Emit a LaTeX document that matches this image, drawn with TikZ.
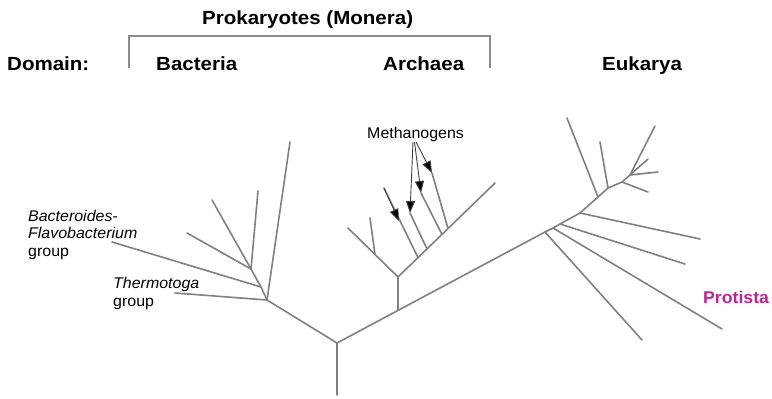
\documentclass[tikz,border=0pt]{standalone}
\usepackage{fontspec}
\setmainfont{Liberation Sans}
\newfontfamily\hdfont[FakeStretch=1.08]{Liberation Sans}
\newfontfamily\prfont[FakeStretch=1.04]{Liberation Sans}
\newfontfamily\lbfont[FakeStretch=1.03]{Liberation Sans}
\usetikzlibrary{arrows.meta}
\definecolor{branch}{RGB}{128,128,128}
\definecolor{bracketgray}{RGB}{140,140,140}
\definecolor{protista}{RGB}{185,40,145}
\begin{document}
\begin{tikzpicture}[x=1pt,y=-1pt,
  br/.style={draw=branch,line width=1.6pt,line cap=round},
  ptr/.style={draw=black!75,line width=0.9pt,-{Triangle[length=12pt,width=9pt,fill=black]}},
  hdr/.style={font=\hdfont\bfseries\fontsize{19}{22}\selectfont,inner sep=0pt,anchor=base west},
  lbl/.style={font=\lbfont\fontsize{15.5}{18}\selectfont,inner sep=0pt,anchor=base west},
  ilbl/.style={lbl,font=\lbfont\itshape\fontsize{15.5}{18}\selectfont}]
\useasboundingbox (0,0) rectangle (772,399);

% ---- headers ----
\node[hdr] (prok) at (202,24) {Prokaryotes (Monera)};
\node[hdr] (dom) at (7,70.5) {Domain:};
\node[hdr] (bac) at (156,70.5) {Bacteria};
\node[hdr] (arc) at (383,70.5) {Archaea};
\node[hdr] (euk) at (602,70) {Eukarya};
\coordinate (brL) at (129,68);
\coordinate (brTL) at (129,36);
\coordinate (brTR) at (490,36);
\coordinate (brR) at (490,68);
\draw[draw=bracketgray,line width=1.5pt] (brL) -- (brTL) -- (brTR) -- (brR);

% ---- tree coordinates ----
\coordinate (Rb) at (337,395);
\coordinate (R) at (337,343);
% bacteria
\coordinate (B0) at (267,300);
\coordinate (B1) at (261,287);
\coordinate (B2) at (251,269);
\coordinate (tThermo) at (175,293);
\coordinate (tTop) at (290,142);
\coordinate (tBact) at (112,242);
\coordinate (tB2a) at (187,233);
\coordinate (tB2b) at (212,200);
\coordinate (tB2c) at (258,191);
% archaea
\coordinate (A0) at (398,310.4);
\coordinate (A1) at (398,277);
\coordinate (AL) at (348,228);
\coordinate (AL1) at (375,254.5);
\coordinate (tAL1) at (370,218);
\coordinate (AR) at (495,183);
\coordinate (AR1) at (418,257.6);
\coordinate (AR2) at (427,248.9);
\coordinate (AR3) at (442,234.4);
\coordinate (AR4) at (448,228.5);
\coordinate (tAR1) at (384,188);
\coordinate (mAR1) at (399,221);
\coordinate (tAR2) at (410,213);
\coordinate (tAR3) at (421,193);
\coordinate (tAR4) at (432,173);
% eukarya
\coordinate (E1) at (545,232);
\coordinate (E2) at (553,228);
\coordinate (E3) at (560,224);
\coordinate (E4) at (580,213);
\coordinate (E5) at (598,197);
\coordinate (E6) at (608,188);
\coordinate (E7) at (622,182);
\coordinate (E8) at (630,175);
\coordinate (Etip) at (655,126);
\coordinate (tE1) at (642,340);
\coordinate (tE2) at (722,329);
\coordinate (tE3) at (685,264);
\coordinate (tE4) at (700,239);
\coordinate (tE5) at (567,118);
\coordinate (tE6) at (600,142);
\coordinate (tE7) at (648,192);
\coordinate (tE8a) at (658,172);
\coordinate (tE8b) at (648,159);

% ---- tree ----
\draw[br] (Rb) -- (R);
\draw[br] (R) -- (B0);
\draw[br] (B0) -- (tThermo);
\draw[br] (B0) -- (tTop);
\draw[br] (B0) -- (B1);
\draw[br] (B1) -- (tBact);
\draw[br] (B1) -- (B2);
\draw[br] (B2) -- (tB2a);
\draw[br] (B2) -- (tB2b);
\draw[br] (B2) -- (tB2c);

\draw[br] (R) -- (A0) -- (E1) -- (E2) -- (E3) -- (E4) -- (E5) -- (E6) -- (E7) -- (E8) -- (Etip);
\draw[br] (A0) -- (A1);
\draw[br] (A1) -- (AL);
\draw[br] (AL1) -- (tAL1);
\draw[br] (A1) -- (AR);
\draw[br] (AR1) -- (tAR1);
\draw[br] (AR2) -- (tAR2);
\draw[br] (AR3) -- (tAR3);
\draw[br] (AR4) -- (tAR4);

\draw[br] (E1) -- (tE1);
\draw[br] (E2) -- (tE2);
\draw[br] (E3) -- (tE3);
\draw[br] (E4) -- (tE4);
\draw[br] (E5) -- (tE5);
\draw[br] (E6) -- (tE6);
\draw[br] (E7) -- (tE7);
\draw[br] (E8) -- (tE8a);
\draw[br] (E8) -- (tE8b);

% ---- labels ----
\node[lbl] (meth) at (367,138.5) {Methanogens};
\coordinate (mp1) at (413,142);
\coordinate (mp2) at (414.5,142);
\coordinate (mp3) at (416,142);
\draw[ptr] (mp1) -- (tAR2);
\draw[ptr] (mp2) -- (tAR3);
\draw[ptr] (mp3) -- (tAR4);
\draw[ptr] (tAR1) -- (mAR1);

\node[ilbl] (bact1) at (28,221.7) {Bacteroides-};
\node[ilbl] (bact2) at (28,238.3) {Flavobacterium};
\node[lbl] (bact3) at (28,256.7) {group};
\node[ilbl] (therm1) at (113,288.3) {Thermotoga};
\node[lbl] (therm2) at (113,306.7) {group};
\node[hdr,font=\prfont\bfseries\fontsize{17}{20}\selectfont,text=protista] (prot) at (703,303) {Protista};
\end{tikzpicture}
\end{document}
